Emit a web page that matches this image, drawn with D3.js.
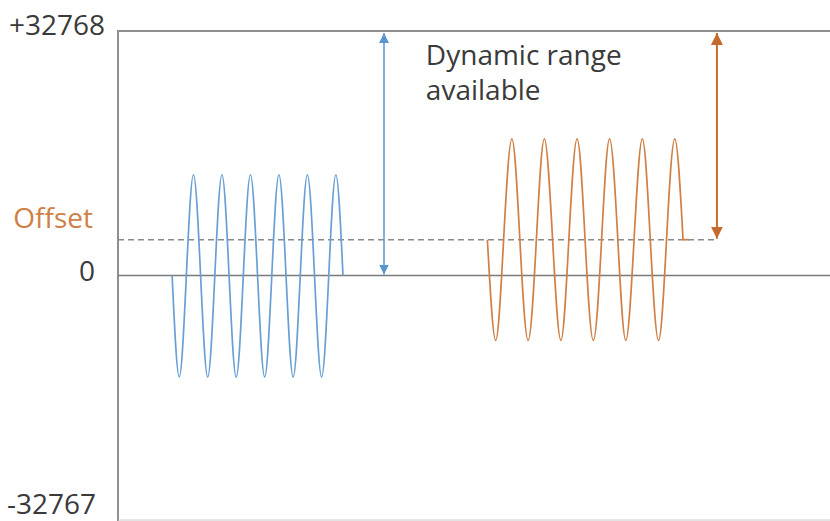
<!DOCTYPE html>
<html>
<head>
<meta charset="utf-8">
<script src="https://cdn.jsdelivr.net/npm/d3@7"></script>
<style>
  html, body { margin: 0; padding: 0; background: #fff; }
  svg { display: block; }
  text { font-family: "Open Sans", "Noto Sans", sans-serif; }
</style>
</head>
<body>
<svg id="chart" width="830" height="521"></svg>
<script>
// ---- data ----
const yTickValues = [32768, 0, -32767];
const yTickLabels = ["+32768", "0", "-32767"];
const offsetValue = 4800;
const offsetLabel = "Offset";
const annotationLines = ["Dynamic range", "available"];

// blue signal (centred on 0)
const blueTimes = [1.90, 2.15, 2.40, 2.65, 2.90, 3.15, 3.40, 3.65, 3.90, 4.15, 4.40, 4.65, 4.90,
                   5.15, 5.40, 5.65, 5.90, 6.15, 6.40, 6.65, 6.90, 7.15, 7.40, 7.65, 7.90];
const blueValues = [0, -13600, 0, 13500, 0, -13600, 0, 13500, 0, -13600, 0, 13500, 0,
                    -13600, 0, 13500, 0, -13600, 0, 13500, 0, -13600, 0, 13500, 0];

// orange signal (centred on the offset)
const orangeTimes = [12.97, 13.26, 13.54, 13.83, 14.11, 14.40, 14.69, 14.97, 15.26, 15.55, 15.83, 16.12, 16.40,
                     16.69, 16.98, 17.26, 17.55, 17.83, 18.12, 18.41, 18.69, 18.98, 19.26, 19.55, 19.84];
const orangeValues = [4800, -8700, 4800, 18300, 4800, -8700, 4800, 18300, 4800, -8700, 4800, 18300, 4800,
                      -8700, 4800, 18300, 4800, -8700, 4800, 18300, 4800, -8700, 4800, 18300, 4800];
const orangeTailTimes = [19.84, 20.05];
const orangeTailValues = [4800, 4800];

// dynamic range arrows
const arrowTimes = [9.34, 21.03];
const arrowFrom = [0, 4800];
const arrowTo = [32768, 32768];

const xDomain = [0, 25];

// ---- styles ----
const frameColor = "#8f8f8f";
const zeroColor = "#7a7a7a";
const dashColor = "#8a8a8a";
const blue = "#6a9fd4";
const blueArrow = "#5b95d0";
const orange = "#cf8046";
const orangeArrow = "#c56a2c";
const textColor = "#3a3a3a";
const fontSize = 28;

const svg = d3.select("#chart");
const W = 830, H = 521;
const mLeft = 118, mTop = 31, mBottom = 520;

const x = d3.scaleLinear().domain(xDomain).range([mLeft, W]);
const y = d3.scaleLinear().domain([-32767, 32768]).range([mBottom, mTop]);

// frame
svg.append("line").attr("x1", mLeft).attr("x2", W + 5).attr("y1", y(32768)).attr("y2", y(32768))
  .attr("stroke", frameColor).attr("stroke-width", 2);
svg.append("line").attr("x1", mLeft).attr("x2", mLeft).attr("y1", y(32768) - 1).attr("y2", H)
  .attr("stroke", frameColor).attr("stroke-width", 2);
svg.append("line").attr("x1", mLeft).attr("x2", W + 5).attr("y1", y(-32767)).attr("y2", y(-32767))
  .attr("stroke", "#c8c8c8").attr("stroke-width", 1);

// zero line
svg.append("line").attr("x1", mLeft).attr("x2", W).attr("y1", y(0)).attr("y2", y(0))
  .attr("stroke", zeroColor).attr("stroke-width", 1.5);

// offset dashed line
svg.append("line").attr("x1", mLeft).attr("x2", x(arrowTimes[1]))
  .attr("y1", y(offsetValue)).attr("y2", y(offsetValue))
  .attr("stroke", dashColor).attr("stroke-width", 1.5).attr("stroke-dasharray", "6,4");

// signals
const lineGen = d3.line().x(d => x(d[0])).y(d => y(d[1]));
svg.append("path")
  .attr("d", lineGen.curve(d3.curveNatural)(blueTimes.map((t, i) => [t, blueValues[i]])))
  .attr("fill", "none").attr("stroke", blue).attr("stroke-width", 1.7);
svg.append("path")
  .attr("d", lineGen.curve(d3.curveNatural)(orangeTimes.map((t, i) => [t, orangeValues[i]])))
  .attr("fill", "none").attr("stroke", orange).attr("stroke-width", 1.7);
svg.append("path")
  .attr("d", lineGen.curve(d3.curveLinear)(orangeTailTimes.map((t, i) => [t, orangeTailValues[i]])))
  .attr("fill", "none").attr("stroke", orange).attr("stroke-width", 1.7);

// arrows
const defs = svg.append("defs");
function marker(id, color, size) {
  defs.append("marker").attr("id", id)
    .attr("markerUnits", "userSpaceOnUse")
    .attr("viewBox", "0 0 10 10").attr("refX", 10).attr("refY", 5)
    .attr("markerWidth", size).attr("markerHeight", size)
    .attr("orient", "auto-start-reverse")
    .append("path").attr("d", "M0,0 L10,5 L0,10 z").attr("fill", color);
}
marker("arrBlue", blueArrow, 10);
marker("arrOrange", orangeArrow, 12);
const arrowColors = [blueArrow, orangeArrow];
const arrowIds = ["arrBlue", "arrOrange"];
const arrowWidths = [1.5, 2];
arrowTimes.forEach((t, i) => {
  svg.append("line")
    .attr("x1", x(t)).attr("x2", x(t))
    .attr("y1", y(arrowFrom[i]) - 1).attr("y2", y(arrowTo[i]) + 2)
    .attr("stroke", arrowColors[i]).attr("stroke-width", arrowWidths[i])
    .attr("marker-start", `url(#${arrowIds[i]})`)
    .attr("marker-end", `url(#${arrowIds[i]})`);
});

// y labels
const labelX = [9, 95, 7];
const labelAnchor = ["start", "end", "start"];
const labelDy = [4, 5, -6];
yTickValues.forEach((v, i) => {
  svg.append("text").attr("x", labelX[i]).attr("y", y(v) + labelDy[i])
    .attr("text-anchor", labelAnchor[i])
    .attr("font-size", fontSize).attr("fill", textColor)
    .text(yTickLabels[i]);
});
svg.append("text").attr("x", 93).attr("y", y(offsetValue) - 12)
  .attr("text-anchor", "end").attr("font-size", fontSize).attr("fill", orange)
  .text(offsetLabel);

// annotation
annotationLines.forEach((s, i) => {
  svg.append("text").attr("x", x(10.81)).attr("y", y(32768) + 34 + i * 35)
    .attr("font-size", fontSize).attr("fill", textColor)
    .text(s);
});
</script>
</body>
</html>
